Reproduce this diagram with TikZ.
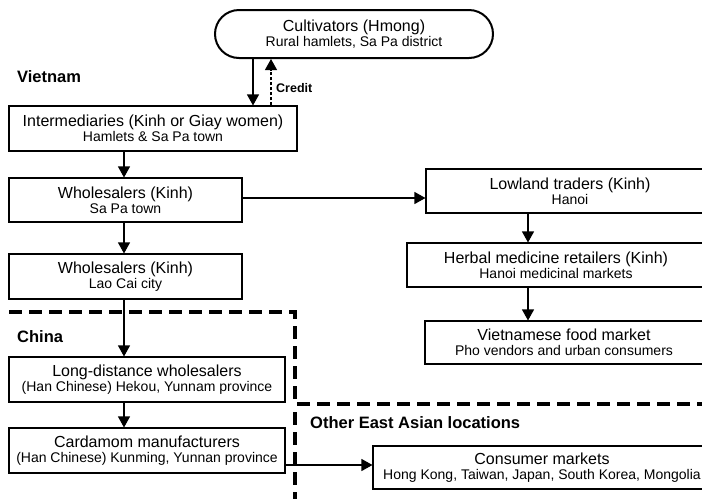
\documentclass[tikz,border=0pt]{standalone}
\usepackage{fontspec}
\setmainfont{Liberation Sans}
\usetikzlibrary{arrows.meta,calc}
\newcommand\mt[1]{{\fontsize{16}{15}\selectfont #1}}
\begin{document}
\begin{tikzpicture}[x=1pt,y=-1pt,
  box/.style={draw, line width=1.1pt, rectangle, inner sep=0pt, align=center, font=\fontsize{14}{15}\selectfont},
  arr/.style={line width=1.1pt, -{Triangle[length=11pt,width=12pt]}},
  creditarr/.style={line width=1.1pt, dash pattern=on 3pt off 2pt, -{Triangle[length=11pt,width=12pt]}},
  region/.style={line width=3.3pt, dash pattern=on 13pt off 7pt},
  lbl/.style={font=\bfseries\fontsize{16.5}{18}\selectfont, anchor=west, inner sep=0pt}]
\useasboundingbox (0,0) rectangle (702,499);

\node[box, rounded corners=24pt, line width=2pt, minimum width=278pt, minimum height=48pt] (cult) at (354,34) {\mt{Cultivators (Hmong)}\\Rural hamlets, Sa Pa district};
\node[box, minimum width=288pt, minimum height=45pt] (int) at (153,128.5) {\mt{Intermediaries (Kinh or Giay women)}\\Hamlets \& Sa Pa town};
\node[box, minimum width=233pt, minimum height=44pt] (wsp) at (125.5,200) {\mt{Wholesalers (Kinh)}\\Sa Pa town};
\node[box, minimum width=233pt, minimum height=45pt] (wlc) at (125.5,276.5) {\mt{Wholesalers (Kinh)}\\Lao Cai city};
\node[box, minimum width=276pt, minimum height=45pt] (ldw) at (147,379.5) {\mt{Long-distance wholesalers}\\(Han Chinese) Hekou, Yunnam province};
\node[box, minimum width=276pt, minimum height=45pt] (card) at (147,450.5) {\mt{Cardamom manufacturers}\\(Han Chinese) Kunming, Yunnan province};
\node[box, minimum width=288pt, minimum height=44pt] (low) at (570,191) {\mt{Lowland traders (Kinh)}\\Hanoi};
\node[box, minimum width=298pt, minimum height=44pt] (herb) at (556,265) {\mt{Herbal medicine retailers (Kinh)}\\Hanoi medicinal markets};
\node[box, minimum width=278pt, minimum height=43pt] (food) at (564,342.5) {\mt{Vietnamese food market}\\Pho vendors and urban consumers};
\node[box, minimum width=338pt, minimum height=43pt] (cons) at (542,467.5) {\mt{Consumer markets}\\Hong Kong, Taiwan, Japan, South Korea, Mongolia};

\node[lbl] (vn) at (17,77) {Vietnam};
\node[lbl] (cn) at (17,337) {China};
\node[lbl] (ea) at (310,423) {Other East Asian locations};
\node[font=\bfseries\fontsize{12.5}{14}\selectfont, anchor=west, inner sep=0pt] (credit) at (276,88) {Credit};

\coordinate (xa) at (253,0);
\coordinate (xb) at (271,0);
\coordinate (xc) at (124,0);
\coordinate (xd) at (528,0);
\coordinate (ya) at (0,198);
\coordinate (yb) at (0,465);

\draw[arr] (cult.south -| xa) -- (int.north -| xa);
\draw[creditarr] (int.north -| xb) -- (cult.south -| xb);
\draw[arr] (int.south -| xc) -- (wsp.north -| xc);
\draw[arr] (wsp.south -| xc) -- (wlc.north -| xc);
\draw[arr] (wlc.south -| xc) -- (ldw.north -| xc);
\draw[arr] (ldw.south -| xc) -- (card.north -| xc);
\draw[arr] (wsp.east |- ya) -- (low.west |- ya);
\draw[arr] (low.south -| xd) -- (herb.north -| xd);
\draw[arr] (herb.south -| xd) -- (food.north -| xd);
\draw[arr] (card.east |- yb) -- (cons.west |- yb);

\draw[region] (9,312) -- (295,312) -- (295,404) -- (702,404);
\draw[region] (295,412) -- (295,499);
\end{tikzpicture}
\end{document}
